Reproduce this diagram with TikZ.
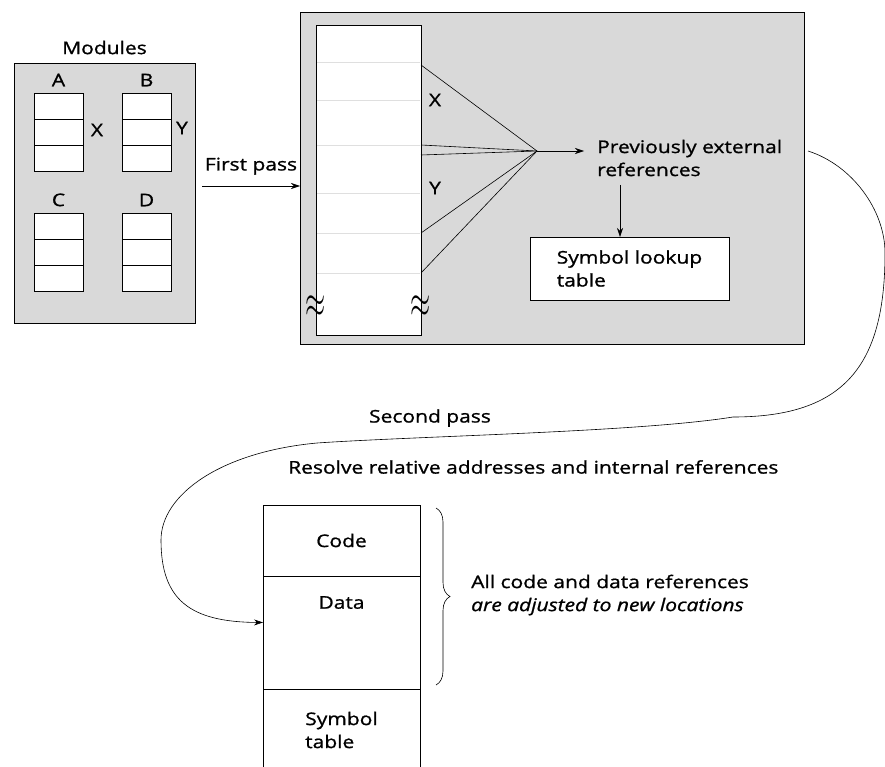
\documentclass[tikz,border=0pt]{standalone}
\usepackage{fontspec}
\setmainfont{Open Sans}[FakeStretch=1.2, FakeBold=1]
\usetikzlibrary{arrows.meta, positioning, decorations.pathreplacing}
\definecolor{panelgray}{gray}{0.85}
\tikzset{
  panel/.style={rectangle, draw=black, fill=panelgray, line width=0.9pt, inner sep=0pt, outer sep=0pt},
  cell/.style={rectangle, draw=black, fill=white, line width=0.9pt, inner sep=0pt, outer sep=0pt},
  modcell/.style={cell, minimum width=49pt, minimum height=26.3pt},
  lbl/.style={inner sep=0pt},
  fanline/.style={line width=0.6pt},
  arrow/.style={line width=0.6pt,-{Stealth[length=9pt,width=6pt]}}
}

\begin{document}
\begin{tikzpicture}[x=1pt, y=-1pt, font=\fontsize{17.5}{23}\selectfont]
    \useasboundingbox (0,0) rectangle (885,767);

    % separately compiled modules
    \node (modpanel) [panel, minimum width=181pt, minimum height=260pt] at (104.5,193) {};
    \node (modtitle) [lbl, above=8.5pt of modpanel] {Modules};
    \foreach \mname/\mx/\my in {A/58.5/93, B/146.5/93, C/58.5/213, D/146.5/213} {
      \node (\mname1) [modcell, anchor=north] at (\mx,\my) {};
      \node (\mname2) [modcell, below=0pt of \mname1] {};
      \node (\mname3) [modcell, below=0pt of \mname2] {};
      \node [lbl, above=6.5pt of \mname1] {\mname};
    }
    \node (refx) [lbl] at (97,130) {X};
    \node (refy) [lbl] at (182,128) {Y};

    % first pass
    \node (linkpanel) [panel, minimum width=504pt, minimum height=332pt] at (552,178) {};
    \draw[arrow] ([shift={(7pt,7pt)}]modpanel.east) coordinate (fpstart) -- (fpstart -| linkpanel.west)
      node[lbl, midway, above=11pt] {First pass};

    \node (column) [cell, minimum width=105pt, minimum height=310pt] at (368.5,180) {};
    \foreach \ly in {62,100,145,193,233,273}
      \draw[gray!25, line width=0.5pt] ([xshift=1pt]column.west |- 0,\ly) -- ([xshift=-1pt]column.east |- 0,\ly);
    \node (cutl) [lbl] at (316,307) {\scalebox{1.5}[2.6]{$\approx$}};
    \node (cutr) [lbl] at (421,307) {\scalebox{1.5}[2.6]{$\approx$}};

    % external references gathered
    \coordinate (hub) at (537,151);
    \foreach \fy in {65,145,155,233,273}
      \draw[fanline] (column.east |- 0,\fy) -- (hub);
    \node (colx) [lbl] at (435,100) {X};
    \node (coly) [lbl] at (435,188) {Y};
    \node (prevext) [lbl, align=left, anchor=west] at (597,158) {Previously external\\references};
    \draw[arrow] (hub) -- ([xshift=-13pt]prevext.west |- hub);
    \node (lookup) [cell, minimum width=199pt, minimum height=63pt, align=left] at (629.5,268.5) {Symbol lookup\\table};
    \coordinate (drop) at (620,185);
    \draw[arrow] (drop) -- (drop |- lookup.north);

    % load module
    \node (code) [cell, minimum width=157pt, minimum height=71pt] at (341.5,540.5) {Code};
    \node (data) [cell, minimum width=157pt, minimum height=113pt, below=0pt of code] {};
    \node (datalbl) [lbl, below=20pt of data.north] {Data};
    \node (symtab) [cell, minimum width=157pt, minimum height=82pt, below=0pt of data, align=left] {Symbol\\table};

    % second pass, routed round the right and back to the left
    \node (secondpass) [lbl] at (430,418) {Second pass};
    \node (resolve) [lbl, anchor=west] at (288,467) {Resolve relative addresses and internal references};
    \coordinate (loopstart) at (808,151);
    \draw[arrow] (loopstart) .. controls (852,165) and (885,210) .. (885,253)
      .. controls (885,365) and (845,417) .. (733,417)
      .. controls (640,432) and (420,436) .. (317,443)
      .. controls (220,452) and (161,495) .. (161,540)
      .. controls (161,600) and (190,622) .. ([yshift=10pt]data.west);

    % adjusted references
    \draw[line width=0.6pt, decorate, decoration={brace, amplitude=14pt}]
      ([shift={(16pt,-3pt)}]code.north east) -- ([shift={(16pt,4pt)}]data.south east);
    \node (adjusted) [lbl, align=left, anchor=west] at (471,595) {All code and data references\\\textit{are adjusted to new locations}};
\end{tikzpicture}
\end{document}
